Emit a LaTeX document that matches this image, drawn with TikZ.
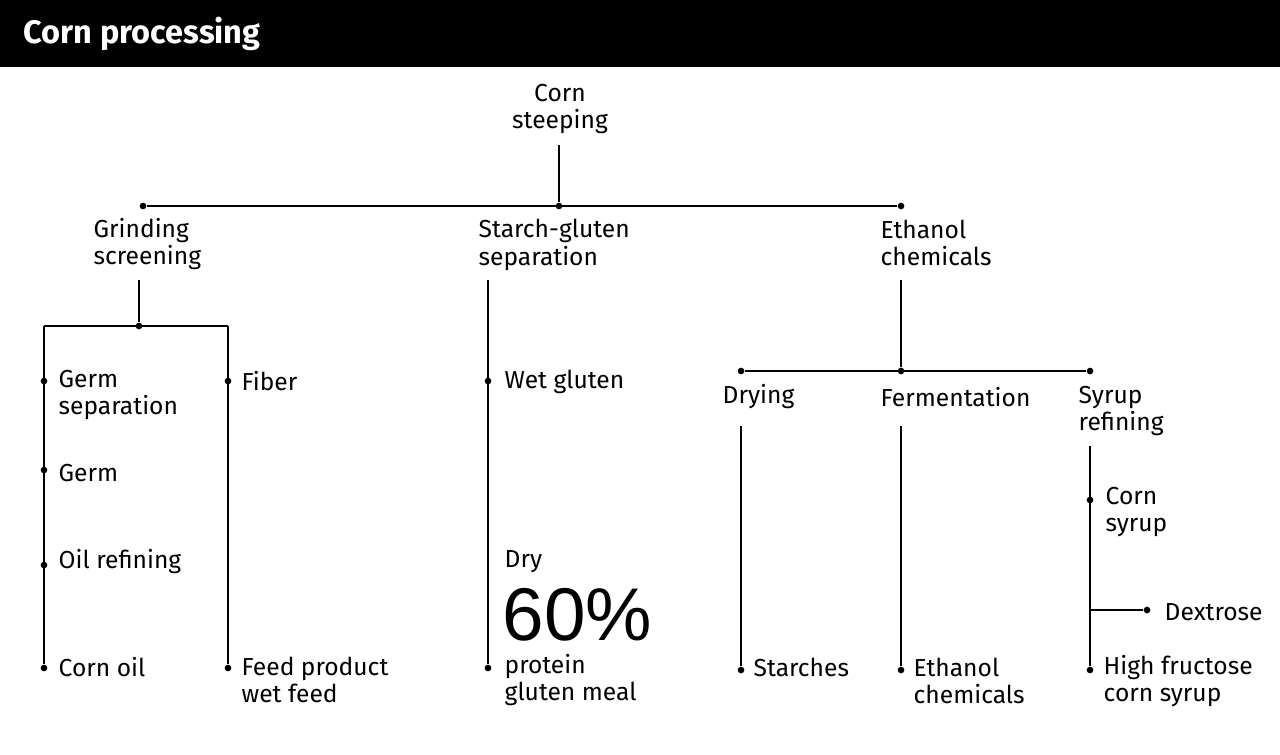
\documentclass[tikz,border=0pt]{standalone}
\usepackage{fontspec}
\setmainfont{Fira Sans}
\newfontfamily\bigfont{Liberation Sans}
\usetikzlibrary{positioning}

\begin{document}
\begin{tikzpicture}
[x=0.02cm,y=-0.02cm,line width=0.8pt,
lbl/.style={anchor=west,align=left,inner sep=0pt,font=\fontsize{14}{15.6}\selectfont},
dot/.style={circle,fill=black,inner sep=0pt,minimum size=3.8pt}]
\useasboundingbox (0,0) rectangle (1280,754);
\fill (0,0) rectangle (1280,67);
\node[anchor=west,inner sep=0pt,text=white,font=\fontsize{18.5}{20}\selectfont\bfseries] (title) at (23,34) {Corn processing};
% top level
\node[lbl,anchor=center,align=center] (corn) at (560,109) {Corn\\steeping};
\coordinate (cornb) at (559,145);
\node[dot] (top) at (559,206) {};
\node[dot] (topl) at (143,206) {};
\node[dot] (topr) at (901,206) {};
\draw (cornb) -- (top);
\draw (topl) -- (topr);
\node[lbl] (grind) at (93,244) {Grinding\\screening};
\node[lbl] (starch) at (478,245) {Starch-gluten\\separation};
\node[lbl] (ethanol) at (880,243) {Ethanol\\chemicals};
% grinding
\coordinate (grindb) at (139,280);
\node[dot] (grindj) at (139,326) {};
\coordinate (gl) at (44,326);
\coordinate (gr) at (228,326);
\draw (grindb) -- (grindj);
\draw (gl) -- (gr);
\node[dot] (germsep) at (44,381) {};
\node[dot] (germ) at (44,470) {};
\node[dot] (oilref) at (44,565) {};
\node[dot] (cornoil) at (44,668) {};
\node[dot] (fiber) at (228,381) {};
\node[dot] (feed) at (228,668) {};
\draw (gl) -- (cornoil);
\draw (gr) -- (feed);
\node[lbl] at (58,395) {Germ\\separation};
\node[lbl] at (58,473) {Germ};
\node[lbl] at (58,562) {Oil refining};
\node[lbl] at (58,667) {Corn oil};
\node[lbl] at (241,381) {Fiber};
\node[lbl] at (241,680) {Feed product\\wet feed};
% starch-gluten
\coordinate (starchb) at (488,280);
\node[dot] (wetgl) at (488,381) {};
\node[dot] (meal) at (488,668) {};
\draw (starchb) -- (meal);
\node[lbl] at (504,382) {Wet gluten};
\node[lbl] at (504,562) {Dry};
\node[lbl,font=\bigfont\fontsize{42.5}{42}\selectfont] at (502,615) {60\%};
\node[lbl] at (504,680) {protein\\gluten meal};
% ethanol
\coordinate (ethb) at (901,280);
\node[dot] (ethj) at (901,371) {};
\node[dot] (dryj) at (741,371) {};
\node[dot] (syrj) at (1090,371) {};
\draw (ethb) -- (ethj);
\draw (dryj) -- (syrj);
\node[lbl] at (722,397) {Drying};
\node[lbl] at (880,397) {Fermentation};
\node[lbl] at (1078,411) {Syrup\\refining};
\coordinate (dryb) at (741,426);
\node[dot] (starches) at (741,670) {};
\draw (dryb) -- (starches);
\coordinate (fermb) at (901,426);
\node[dot] (ethchem) at (901,670) {};
\draw (fermb) -- (ethchem);
\coordinate (syrb) at (1090,446);
\node[dot] (cornsyr) at (1090,500) {};
\node[dot] (hfcs) at (1090,670) {};
\coordinate (dexj) at (1090,610);
\node[dot] (dex) at (1147,610) {};
\draw (syrb) -- (hfcs);
\draw (dexj) -- (dex);
\node[lbl] at (753,667) {Starches};
\node[lbl] at (913,681) {Ethanol\\chemicals};
\node[lbl] at (1105,512) {Corn\\syrup};
\node[lbl] at (1164,612) {Dextrose};
\node[lbl] at (1103,681) {High fructose\\corn syrup};
\end{tikzpicture}
\end{document}
